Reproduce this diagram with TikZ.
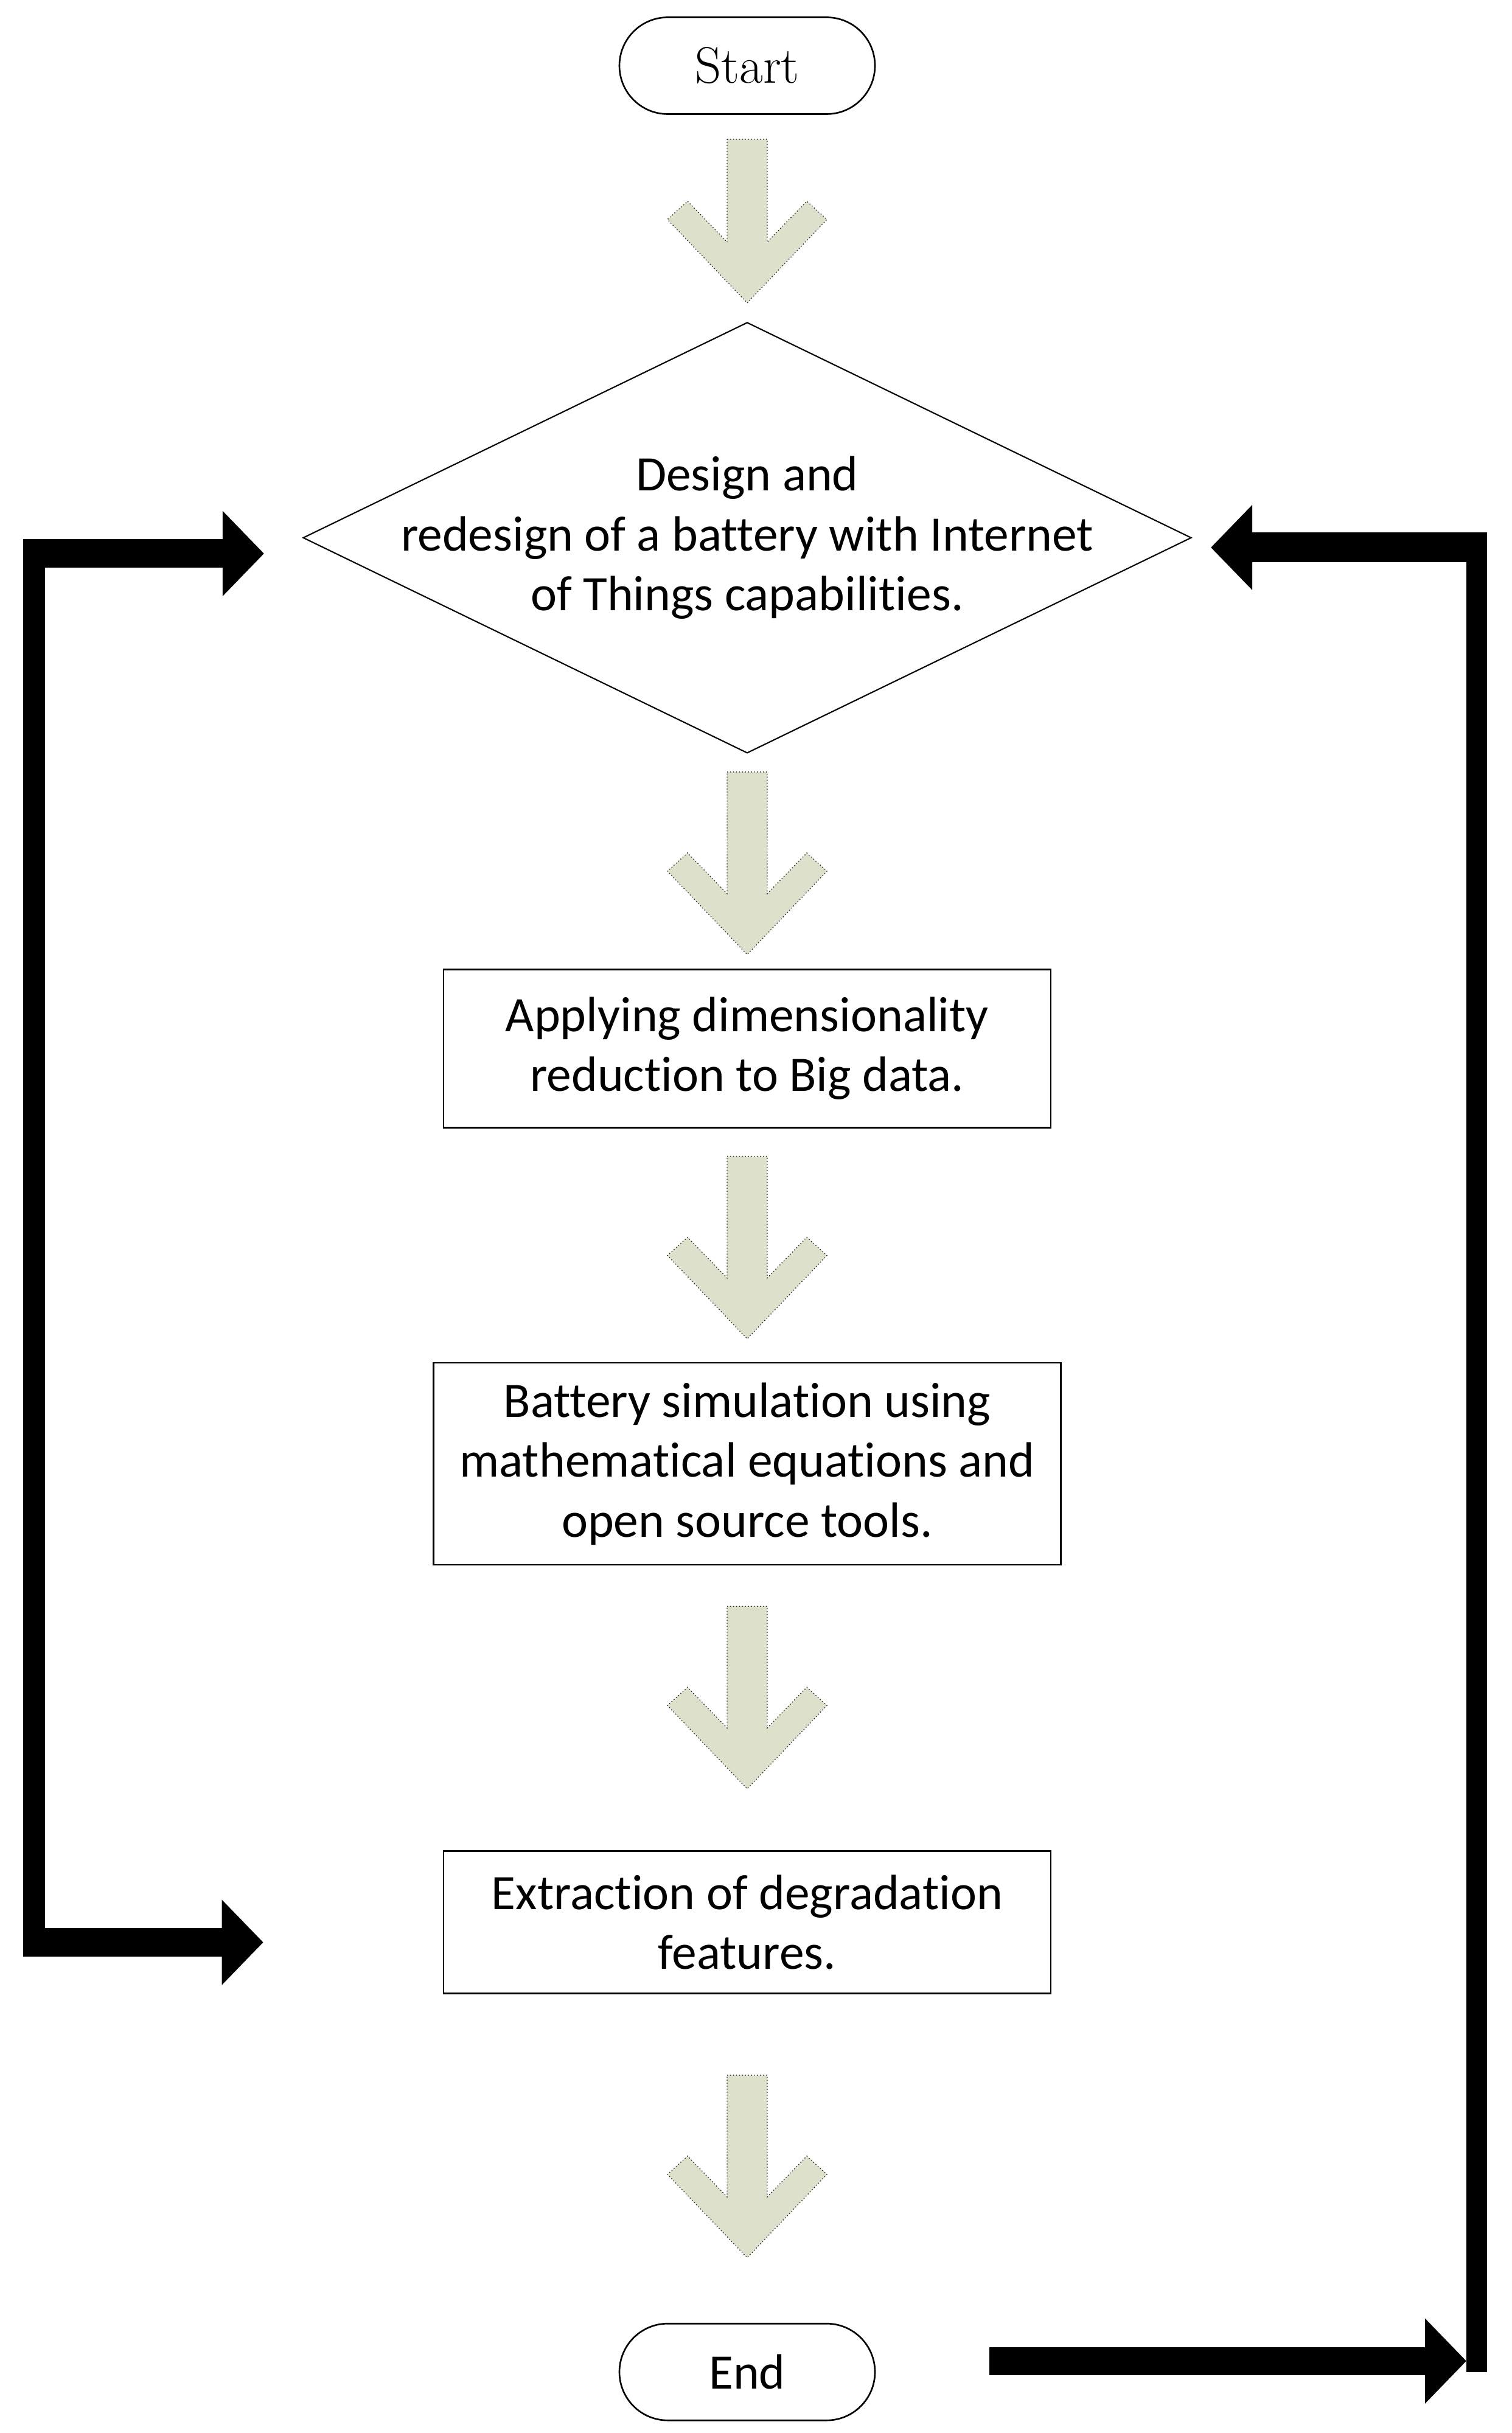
\documentclass[tikz,border=0pt]{standalone}
\usepackage{fontspec}
\setsansfont{Carlito}[Ligatures=NoCommon]
\usepackage{tikz}
\usetikzlibrary{arrows.meta, positioning, calc, shapes.geometric, shapes.misc}
\definecolor{arrowfill}{RGB}{221,224,203}

\begin{document}
\begin{tikzpicture}[
    terminal/.style={rounded rectangle, draw, line width=0.75pt, minimum width=4.2cm, minimum height=1.59cm, inner sep=0pt},
    decision/.style={diamond, draw, line width=0.6pt, minimum width=14.6cm, minimum height=7.08cm, inner sep=0pt},
    process/.style={rectangle, draw, line width=0.75pt, align=center, inner sep=0pt, minimum width=9.98cm},
    boxfont/.style={font=\sffamily\fontsize{23.2}{28}\selectfont},
    arrowbody/.style={fill=arrowfill, draw=black!85, densely dotted, line width=0.4pt},
    loopbar/.style={line width=0.36cm, black},
    looparrow/.style={line width=0.47cm, black, -{Triangle[length=0.68cm, width=1.36cm]}},
    pics/downarrow/.style={code={
        \path[arrowbody] (-0.33,0) -- (0.33,0) -- (0.33,-#1) -- (0.98,{-#1+0.67}) -- (1.31,{-#1+0.37})
            -- (0,{-#1-1}) -- (-1.31,{-#1+0.37}) -- (-0.98,{-#1+0.67}) -- (-0.33,-#1) -- cycle;
    }}
]

    \path[use as bounding box, fill=white] (0,0) rectangle (24.84,-39.99);

    \node [terminal, font=\rmfamily\fontsize{24}{28}\selectfont] (start) at (12.28,-1.08) {Start};

    \node [decision, below=3.40cm of start,
        label={[boxfont, align=center]center:Design and\\redesign of a battery with Internet\\of Things capabilities.}] (dsg) {};

    \node [process, boxfont, minimum height=2.60cm, below=3.53cm of dsg] (apply) {
        Applying dimensionality\\reduction to Big data.
    };

    \node [process, boxfont, minimum width=10.31cm, minimum height=3.32cm, below=3.84cm of apply] (sim) {
        Battery simulation using\\mathematical equations and\\open source tools.
    };

    \node [process, boxfont, minimum height=2.34cm, below=4.68cm of sim] (ext) {
        Extraction of degradation\\features.
    };

    \node [terminal, boxfont, below=5.40cm of ext] (end) {End};

    % block arrows between the steps
    \coordinate [below=0.40cm of start] (a1);
    \coordinate [below=0.30cm of dsg] (a2);
    \coordinate [below=0.46cm of apply] (a3);
    \coordinate [below=0.67cm of sim] (a4);
    \coordinate [below=1.33cm of ext] (a5);
    \pic at (a1) {downarrow=1.69};
    \pic at (a2) {downarrow=2.00};
    \pic at (a3) {downarrow=2.00};
    \pic at (a4) {downarrow=2.00};
    \pic at (a5) {downarrow=2.00};

    % feedback loops
    \coordinate (railL) at (0.56,0);
    \coordinate (railR) at (24.27,0);
    \coordinate (dsgin)   at ([xshift=-0.63cm, yshift=-0.26cm] dsg.west);
    \coordinate (extin)   at ([xshift=-2.95cm, yshift=-0.33cm] ext.west);
    \coordinate (dsgback) at ([xshift=0.31cm, yshift=-0.16cm] dsg.east);
    \coordinate (endout)  at ([xshift=1.87cm, yshift=0.18cm] end.east);
    \coordinate (lc1) at (dsgin -| railL);
    \coordinate (lc2) at (extin -| railL);
    \coordinate (rc1) at (dsgback -| railR);
    \coordinate (rc2) at (endout -| railR);

    \draw [loopbar] ([yshift=0.235cm]lc1) -- ([yshift=-0.235cm]lc2);
    \draw [looparrow] ([xshift=-0.18cm]lc1) -- (dsgin);
    \draw [looparrow] ([xshift=-0.18cm]lc2) -- (extin);

    \draw [loopbar, line width=0.34cm] ([yshift=0.245cm]rc1) -- ([yshift=-0.18cm]rc2);
    \draw [looparrow, line width=0.49cm] ([xshift=0.17cm]rc1) -- (dsgback);
    \draw [looparrow, line width=0.46cm] (endout) -- ([xshift=-0.17cm]rc2);

\end{tikzpicture}
\end{document}
